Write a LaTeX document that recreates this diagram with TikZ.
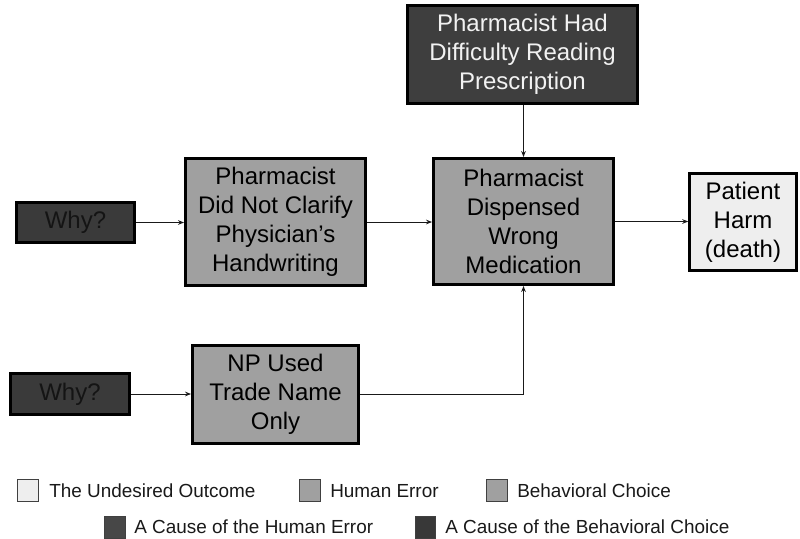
\documentclass[tikz,border=0pt]{standalone}
\usepackage{fontspec}
\setmainfont{Liberation Sans}
\usetikzlibrary{arrows.meta}

\definecolor{outcome}{HTML}{EEEEEE}
\definecolor{errorfill}{HTML}{A0A0A0}
\definecolor{causefill}{HTML}{3E3E3E}
\definecolor{whyfill}{HTML}{3A3A3A}
\definecolor{whytext}{HTML}{141414}

\tikzset{
  box/.style={draw=black, line width=2.2pt, inner sep=0pt, align=center,
    font=\fontsize{18}{21.75}\selectfont},
  errbox/.style={box, fill=errorfill, text=black},
  causebox/.style={box, fill=causefill},
  whybox/.style={box, fill=whyfill, text=whytext},
  outbox/.style={box, fill=outcome, text=black},
  link/.style={draw=black!90, line width=0.75pt,
    -{Stealth[length=4.5pt, width=3.5pt]}},
  keybox/.style={draw=black!75, line width=0.7pt, inner sep=0pt,
    minimum width=15.5pt, minimum height=16.5pt},
  keytext/.style={anchor=west, inner sep=0pt,
    font=\fontsize{14.2}{16}\selectfont, text=black!90},
}

\begin{document}
\begin{tikzpicture}[x=0.75pt, y=-0.75pt]
\useasboundingbox (0,0) rectangle (800,539);

% main chain
\node[causebox, text=white!95!black, minimum width=172pt, minimum height=73.5pt]
  (read) at (522.5,54.5) {Pharmacist Had\\Difficulty Reading\\Prescription};
\node[errbox, minimum width=135pt, minimum height=94.5pt]
  (disp) at (523.5,221.5) {Pharmacist\\Dispensed\\Wrong\\Medication};
\node[outbox, minimum width=80pt, minimum height=72.5pt]
  (harm) at (743,222) {Patient\\Harm\\(death)};

% upper branch
\node[whybox, minimum width=88.5pt, minimum height=30pt]
  (why1) at (75.5,222.5) {Why?};
\node[errbox, minimum width=135pt, minimum height=95.5pt]
  (clar) at (275.5,222) {Pharmacist\\Did Not Clarify\\Physician’s\\Handwriting};

% lower branch
\node[whybox, minimum width=89.5pt, minimum height=31pt]
  (why2) at (70,394) {Why?};
\node[errbox, minimum width=124.5pt, minimum height=73.5pt]
  (np) at (275.5,394.5) {NP Used\\Trade Name\\Only};

% connectors
\draw[link] (why1.east) -- (why1.east -| clar.west);
\draw[link] (clar.east) -- (clar.east -| disp.west);
\draw[link] (read.south -| disp.north) -- (disp.north);
\draw[link] (disp.east) -- (disp.east -| harm.west);
\draw[link] (why2.east) -- (why2.east -| np.west);
\draw[link] (np.east) -| (disp.south);

% key
\node[keybox, fill=outcome]   (k1) at (28,490.5) {};
\node[keytext] (t1) at (49,491) {The Undesired Outcome};
\node[keybox, fill=errorfill] (k2) at (310,490.5) {};
\node[keytext] (t2) at (330,491) {Human Error};
\node[keybox, fill=errorfill] (k3) at (497,490.5) {};
\node[keytext] (t3) at (517,491) {Behavioral Choice};
\node[keybox, fill=black!72]  (k4) at (115,527) {};
\node[keytext] (t4) at (134,527) {A Cause of the Human Error};
\node[keybox, fill=black!78]  (k5) at (425.5,527) {};
\node[keytext] (t5) at (445,527) {A Cause of the Behavioral Choice};
\end{tikzpicture}
\end{document}
